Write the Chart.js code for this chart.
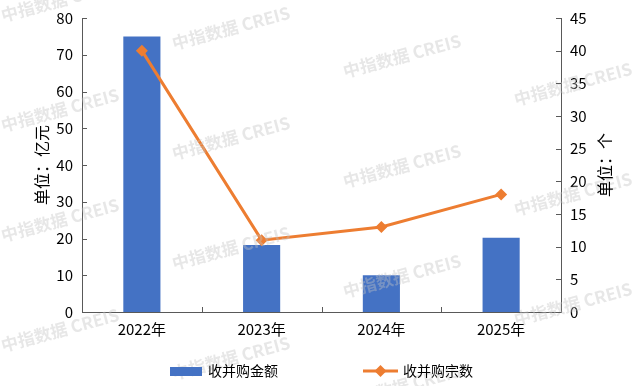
<!DOCTYPE html>
<html>
<head>
<meta charset="utf-8">
<script src="https://cdn.jsdelivr.net/npm/chart.js@4.4.1/dist/chart.umd.min.js"></script>
<style>
  html, body { margin: 0; padding: 0; background: #fff; }
  #wrap { width: 640px; height: 386px; }
</style>
</head>
<body>
<div id="wrap"><canvas id="chart" width="640" height="386"></canvas></div>
<script>
// dati
const years = ['2022年', '2023年', '2024年', '2025年'];
const amounts = [75, 18.2, 10, 20.2];   // 收并购金额 (亿元)
const counts = [40, 11, 13, 18];        // 收并购宗数 (个)
const amountTicks = { min: 0, max: 80, step: 10 };
const countTicks = { min: 0, max: 45, step: 5 };

const FONT = '"Noto Sans CJK SC", "Noto Sans", sans-serif';
const AXIS = '#595959';
const BLUE = '#4472C4';
const ORANGE = '#ED7D31';

// filigrana "中指数据 CREIS"
const watermark = {
  id: 'watermark',
  afterDatasetsDraw(chart) {
    const ctx = chart.ctx;
    ctx.save();
    ctx.font = 'bold 17px ' + FONT;
    ctx.fillStyle = 'rgba(195,195,195,0.4)';
    ctx.textAlign = 'center';
    ctx.textBaseline = 'middle';
    for (let col = 0; col < 4; col++) {
      for (let k = -1; k < 5; k++) {
        const x = 60 + 171 * col;
        const y = 110 * k + 28 * col;
        ctx.save();
        ctx.translate(x, y);
        ctx.rotate(-15 * Math.PI / 180);
        ctx.fillText('中指数据 CREIS', 0, 0);
        ctx.restore();
      }
    }
    ctx.restore();
  }
};

// tacche interne, titoli assi e legenda
const extras = {
  id: 'extras',
  afterDraw(chart) {
    const ctx = chart.ctx;
    const area = chart.chartArea;
    const x = chart.scales.x, y = chart.scales.y, y1 = chart.scales.y1;
    ctx.save();
    ctx.strokeStyle = AXIS;
    ctx.lineWidth = 1;
    ctx.beginPath();
    y.ticks.forEach(t => {
      const py = Math.round(y.getPixelForValue(t.value)) + 0.5;
      ctx.moveTo(area.left, py); ctx.lineTo(area.left + 5, py);
    });
    y1.ticks.forEach(t => {
      const py = Math.round(y1.getPixelForValue(t.value)) + 0.5;
      ctx.moveTo(area.right - 5, py); ctx.lineTo(area.right, py);
    });
    for (let i = 0; i < years.length - 1; i++) {
      const px = Math.round((x.getPixelForTick(i) + x.getPixelForTick(i + 1)) / 2) + 0.5;
      ctx.moveTo(px, area.bottom); ctx.lineTo(px, area.bottom - 5);
    }
    ctx.stroke();

    // titoli
    ctx.fillStyle = '#000';
    ctx.font = '16px ' + FONT;
    ctx.textAlign = 'center';
    ctx.textBaseline = 'middle';
    const cy = (area.top + area.bottom) / 2;
    [[42, '单位：亿元'], [605, '单位：个']].forEach(([tx, txt]) => {
      ctx.save();
      ctx.translate(tx, cy);
      ctx.rotate(-Math.PI / 2);
      ctx.fillText(txt, 0, 0);
      ctx.restore();
    });

    // legenda
    const ly = 371;
    ctx.font = '14px ' + FONT;
    ctx.textAlign = 'left';
    ctx.fillStyle = BLUE;
    ctx.fillRect(170, ly - 4, 32, 9);
    ctx.fillStyle = '#000';
    ctx.fillText(chart.data.datasets[1].label, 208, ly);

    ctx.strokeStyle = ORANGE;
    ctx.lineWidth = 3;
    ctx.beginPath();
    ctx.moveTo(363, ly); ctx.lineTo(398, ly);
    ctx.stroke();
    ctx.fillStyle = ORANGE;
    ctx.beginPath();
    ctx.moveTo(380.5, ly - 6); ctx.lineTo(386.5, ly); ctx.lineTo(380.5, ly + 6); ctx.lineTo(374.5, ly);
    ctx.closePath();
    ctx.fill();
    ctx.fillStyle = '#000';
    ctx.fillText(chart.data.datasets[0].label, 403, ly);
    ctx.restore();
  }
};

new Chart(document.getElementById('chart').getContext('2d'), {
  data: {
    labels: years,
    datasets: [{
      type: 'line',
      label: '收并购宗数',
      data: counts,
      yAxisID: 'y1',
      borderColor: ORANGE,
      backgroundColor: ORANGE,
      borderWidth: 3,
      pointStyle: 'rectRot',
      pointRadius: 6,
      pointBorderWidth: 0,
      tension: 0,
      order: 0
    }, {
      type: 'bar',
      label: '收并购金额',
      data: amounts,
      yAxisID: 'y',
      backgroundColor: BLUE,
      categoryPercentage: 1,
      barPercentage: 0.31,
      order: 1
    }]
  },
  options: {
    responsive: false,
    animation: false,
    layout: { padding: { top: 18, left: 0, right: 0, bottom: 0 } },
    plugins: { legend: { display: false }, tooltip: { enabled: false } },
    scales: {
      x: {
        offset: true,
        grid: { display: false, drawTicks: false },
        border: { display: true, color: AXIS },
        ticks: { color: '#000', font: { family: FONT, size: 15 }, padding: 8 },
        afterFit(s) { s.height = 74; }
      },
      y: {
        position: 'left',
        min: amountTicks.min, max: amountTicks.max,
        grid: { display: false, drawTicks: false },
        border: { display: true, color: AXIS },
        ticks: { stepSize: amountTicks.step, color: '#000', font: { family: FONT, size: 15 }, padding: 9 },
        afterFit(s) { s.width = 82; }
      },
      y1: {
        position: 'right',
        min: countTicks.min, max: countTicks.max,
        grid: { display: false, drawTicks: false },
        border: { display: true, color: AXIS },
        ticks: { stepSize: countTicks.step, color: '#000', font: { family: FONT, size: 15 }, padding: 9 },
        afterFit(s) { s.width = 79; }
      }
    }
  },
  plugins: [watermark, extras]
});
</script>
</body>
</html>
